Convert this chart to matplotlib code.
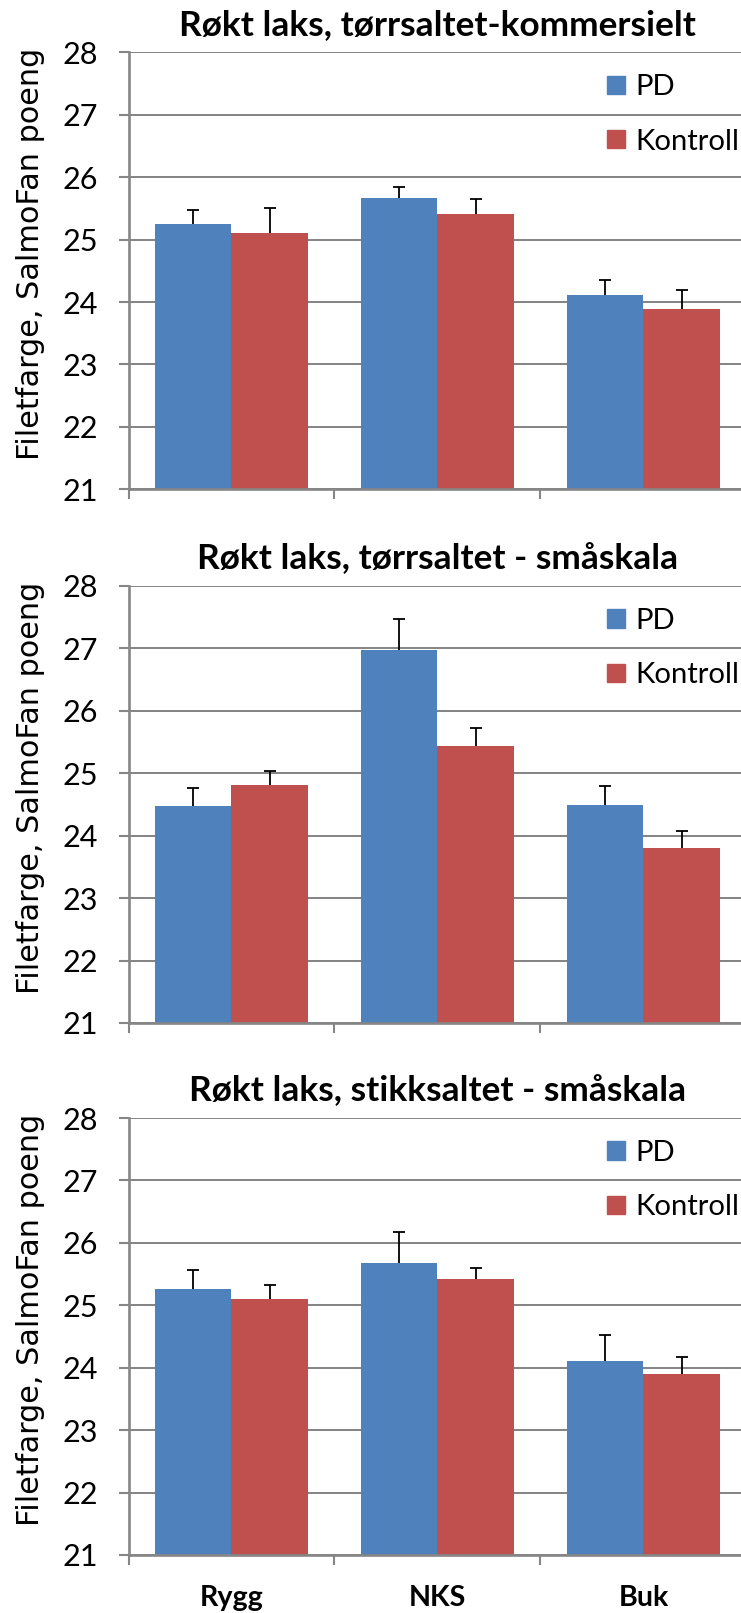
import matplotlib
matplotlib.use('Agg')
import numpy as np
import matplotlib.pyplot as plt
from matplotlib import font_manager as fm
from matplotlib.font_manager import FontProperties
from matplotlib.textpath import TextPath
from matplotlib.patches import Patch
import matplotlib.transforms as mtransforms

# ---------------- data ----------------
categories = ['Rygg', 'NKS', 'Buk']
series_names = ['PD', 'Kontroll']
titles = ['Røkt laks, tørrsaltet-kommersielt',
          'Røkt laks, tørrsaltet - småskala',
          'Røkt laks, stikksaltet - småskala']
ylabel = 'Filetfarge, SalmoFan poeng'
yticks = [21, 22, 23, 24, 25, 26, 27, 28]

pd1 = [25.25, 25.67, 24.11]
k1 = [25.10, 25.41, 23.89]
pd1_err = [0.22, 0.18, 0.25]
k1_err = [0.40, 0.24, 0.31]

pd2 = [24.47, 26.97, 24.50]
k2 = [24.81, 25.44, 23.80]
pd2_err = [0.30, 0.50, 0.30]
k2_err = [0.22, 0.28, 0.28]

pd3 = [25.26, 25.67, 24.11]
k3 = [25.10, 25.42, 23.90]
pd3_err = [0.31, 0.50, 0.41]
k3_err = [0.22, 0.18, 0.27]

panels = [(pd1, pd1_err, k1, k1_err),
          (pd2, pd2_err, k2, k2_err),
          (pd3, pd3_err, k3, k3_err)]

# ---------------- style ----------------
W, H, DPI = 741, 1613, 100
BLUE = '#4F81BD'
RED = '#C0504D'
GRAY = '#868686'

avail = {f.name for f in fm.fontManager.ttflist}


def pick(*names):
    for n in names:
        if n in avail:
            return n
    return 'DejaVu Sans'


NARROW = pick('Liberation Sans Narrow', 'Lato', 'Liberation Sans')
LABELF = pick('DejaVu Sans')


def fit(text, family, target, weight='normal', dim='w'):
    tp = TextPath((0, 0), text, size=100,
                  prop=FontProperties(family=family, weight=weight))
    ext = tp.get_extents()
    v = ext.width if dim == 'w' else ext.height
    return 100.0 * target * 72.0 / (v * DPI)


tick_fs = fit('28', NARROW, 22.4, dim='h')
leg_fs = fit('Kontroll', NARROW, 99, dim='w')
title_fs = fit(titles[0], NARROW, 513, weight='bold')
ylab_fs = fit(ylabel, LABELF, 406)
cat_fs = fit('Rygg', NARROW, 61, weight='bold')

fig = plt.figure(figsize=(W / DPI, H / DPI), dpi=DPI)
fig.patch.set_facecolor('white')

axes_left = 128.5
axes_w = 618.0
axes_h = 437.0
axes_tops = [52.3, 586.0, 1118.0]

x = np.arange(len(categories)) + 0.5
bw = 0.37

for k, (pdv, pde, kv, ke) in enumerate(panels):
    top = axes_tops[k]
    ax = fig.add_axes([axes_left / W, 1 - (top + axes_h) / H,
                       axes_w / W, axes_h / H])
    ax.bar(x - bw / 2, pdv, bw, color=BLUE, zorder=2, label=series_names[0])
    ax.bar(x + bw / 2, kv, bw, color=RED, zorder=2, label=series_names[1])
    for xs, vals, errs in ((x - bw / 2, pdv, pde), (x + bw / 2, kv, ke)):
        eb = ax.errorbar(xs, vals, yerr=[np.zeros(len(vals)), errs],
                         fmt='none', ecolor='black', elinewidth=1.3,
                         capsize=4.0, capthick=1.3, zorder=3)
        for c in eb[1]:
            if np.allclose(c.get_ydata(), vals):
                c.set_visible(False)

    ax.set_xlim(0, 3)
    ax.set_ylim(21, 28)
    ax.set_yticks(yticks)
    ax.set_xticks([0, 1, 2, 3])
    ax.set_xticklabels([])
    ax.tick_params(axis='y', direction='out', length=7.2, width=1.5,
                   color=GRAY, pad=14.5, labelsize=tick_fs, labelcolor='black')
    ax.tick_params(axis='x', direction='out', length=7.2, width=1.5, color=GRAY)
    for lbl in ax.get_yticklabels():
        lbl.set_fontfamily(NARROW)
    ax.grid(axis='y', color=GRAY, linewidth=1.45, zorder=0)
    ax.set_axisbelow(True)
    for s in ('top', 'right'):
        ax.spines[s].set_visible(False)
    for s in ('left', 'bottom'):
        ax.spines[s].set_color(GRAY)
        ax.spines[s].set_linewidth(1.9)

    # title
    ttrans = mtransforms.offset_copy(ax.transAxes, fig=fig, x=0, y=17, units='dots')
    ax.text(0.5, 1.0, titles[k], transform=ttrans, ha='center', va='baseline',
            fontsize=title_fs, fontweight='bold', family=NARROW)

    # y label
    cy = top + axes_h / 2 - 17
    fig.text(30.5 / W, 1 - cy / H, ylabel, rotation=90, ha='center', va='center',
             fontsize=ylab_fs, family=LABELF)

    # legend
    fs_px = leg_fs * DPI / 72.0
    hl = 17.4 / fs_px
    ax.legend(handles=[Patch(color=BLUE, label=series_names[0]),
                       Patch(color=RED, label=series_names[1])],
              loc='upper left', bbox_to_anchor=(0.7748, 0.950),
              frameon=False, handlelength=hl, handleheight=hl,
              handletextpad=0.36, labelspacing=0.97, borderaxespad=0,
              borderpad=0, prop=FontProperties(family=NARROW, size=leg_fs))

    # category labels on the bottom panel
    if k == len(panels) - 1:
        btrans = mtransforms.blended_transform_factory(ax.transData, ax.transAxes)
        btrans = mtransforms.offset_copy(btrans, fig=fig, x=0, y=-51, units='dots')
        for xi, c in zip(x, categories):
            ax.text(xi, 0.0, c, transform=btrans, ha='center', va='baseline',
                    fontsize=cat_fs, fontweight='bold', family=NARROW)

fig.savefig('out.png', dpi=DPI, facecolor='white')
